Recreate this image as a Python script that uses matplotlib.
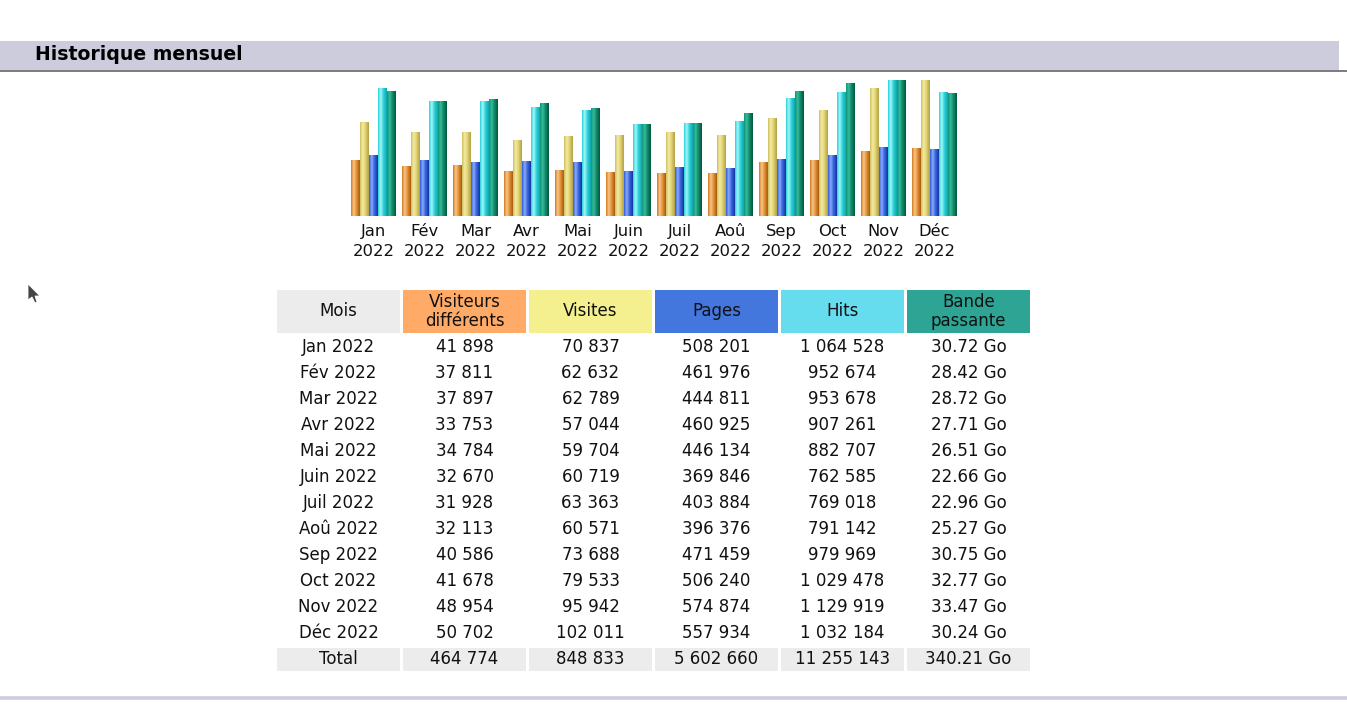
import matplotlib
matplotlib.use("Agg")
import matplotlib.pyplot as plt
import numpy as np
from matplotlib.colors import LinearSegmentedColormap
from matplotlib.patches import Rectangle, Polygon

# ---- data -------------------------------------------------------------
months = ["Jan", "Fév", "Mar", "Avr", "Mai", "Juin",
          "Juil", "Aoû", "Sep", "Oct", "Nov", "Déc"]
year = "2022"
visitors = [41898, 37811, 37897, 33753, 34784, 32670,
            31928, 32113, 40586, 41678, 48954, 50702]
visits = [70837, 62632, 62789, 57044, 59704, 60719,
          63363, 60571, 73688, 79533, 95942, 102011]
pages = [508201, 461976, 444811, 460925, 446134, 369846,
         403884, 396376, 471459, 506240, 574874, 557934]
hits = [1064528, 952674, 953678, 907261, 882707, 762585,
        769018, 791142, 979969, 1029478, 1129919, 1032184]
bandwidth = [30.72, 28.42, 28.72, 27.71, 26.51, 22.66,
             22.96, 25.27, 30.75, 32.77, 33.47, 30.24]
totals = [464774, 848833, 5602660, 11255143, 340.21]
headers = ["Mois", "Visiteurs\ndifférents", "Visites", "Pages", "Hits", "Bande\npassante"]
header_colors = ["#ECECEC", "#FFAA66", "#F4F090", "#4477DD", "#66DDEE", "#2EA495"]

W, H = 1347, 726
FONT = "DejaVu Sans"
TXT = "#111111"


def fmt_int(v):
    return "{:,}".format(v).replace(",", " ")


def fmt_go(v):
    return "{:.2f} Go".format(v)


fig = plt.figure(figsize=(W / 100, H / 100), dpi=100)
fig.patch.set_facecolor("white")

# page canvas in pixel coordinates
page = fig.add_axes([0, 0, 1, 1])
page.set_xlim(0, W)
page.set_ylim(H, 0)
page.axis("off")

# section header
page.add_patch(Rectangle((0, 41), 1339, 29, facecolor="#CCCCDD", edgecolor="none"))
page.plot([0, W], [71, 71], color="#7A7A80", lw=1.4, solid_capstyle="butt")
page.text(35, 55, "Historique mensuel", fontsize=13.6, fontweight="bold",
          family=FONT, va="center", ha="left", color="#000000")
page.plot([0, W], [698, 698], color="#CCCCDD", lw=2.6, solid_capstyle="butt")

# mouse cursor left in the screenshot
page.add_patch(Polygon([(28, 284), (28, 300), (32, 297), (35, 303), (37, 302),
                        (35, 296), (40, 296)], closed=True,
                       facecolor="#444444", edgecolor="#FFFFFF", lw=0.6))

# ---- bar chart --------------------------------------------------------
x0, x1, ytop, ybase = 351, 957, 80, 216
chart = fig.add_axes([x0 / W, 1 - ybase / H, (x1 - x0) / W, (ybase - ytop) / H])
chart.set_facecolor("none")
for s in chart.spines.values():
    s.set_visible(False)

# awstats scaling: visitors+visits by max visits, pages+hits by max hits,
# bandwidth by its own max
series = [
    (visitors, max(visits), ["#D07A1C", "#F8C68C", "#E69438", "#A65A0C"]),
    (visits, max(visits), ["#CDBE62", "#F4ECA4", "#E2D372", "#B0A048"]),
    (pages, max(hits), ["#2C5CD6", "#8CAAF8", "#3A6AE0", "#1432A2"]),
    (hits, max(hits), ["#28D2DA", "#A4F8F8", "#30D2DA", "#0EA4AE"]),
    (bandwidth, max(bandwidth), ["#0E9676", "#36BC9C", "#138A6C", "#00583A"]),
]
n_series = len(series)
group_w = 45 / 51
bar_w = group_w / n_series
x = np.arange(len(months))
grad = np.linspace(0, 1, 64).reshape(1, -1)

for j, (vals, vmax, stops) in enumerate(series):
    cmap = LinearSegmentedColormap.from_list("s%d" % j, list(zip([0, 0.3, 0.6, 1], stops)))
    heights = np.array(vals, dtype=float) / vmax
    bars = chart.bar(x - group_w / 2 + j * bar_w, heights, width=bar_w,
                     align="edge", color=stops[2], linewidth=0)
    for b in bars:
        im = chart.imshow(grad, extent=[b.get_x(), b.get_x() + b.get_width(), 0, b.get_height()],
                          aspect="auto", cmap=cmap, interpolation="bilinear", zorder=2)
        im.set_clip_path(b)

chart.set_xlim(-group_w / 2, len(months) - 1 + group_w / 2)
chart.set_ylim(0, 1)
chart.set_yticks([])
chart.set_xticks(x)
chart.set_xticklabels(["%s\n%s" % (m, year) for m in months], fontsize=11.8,
                      family=FONT, linespacing=1.38, color=TXT)
chart.tick_params(axis="x", length=0, pad=6)

# ---- table ------------------------------------------------------------
col_x = [277 + i * 126 for i in range(len(headers))]
cell_w = 123
for cx, label, col in zip(col_x, headers, header_colors):
    page.add_patch(Rectangle((cx, 290), cell_w, 43, facecolor=col, edgecolor="none"))
    page.text(cx + cell_w / 2, 311.5, label, ha="center", va="center", fontsize=12,
              family=FONT, linespacing=1.1, color=TXT)

columns = [
    [fmt_int(v) for v in visitors],
    [fmt_int(v) for v in visits],
    [fmt_int(v) for v in pages],
    [fmt_int(v) for v in hits],
    [fmt_go(v) for v in bandwidth],
]
for i, m in enumerate(months):
    y = 347 + i * 26
    page.text(col_x[0] + cell_w / 2, y, "%s %s" % (m, year), ha="center", va="center",
              fontsize=12, family=FONT, color=TXT)
    for k, col in enumerate(columns):
        page.text(col_x[k + 1] + cell_w / 2, y, col[i], ha="center", va="center",
                  fontsize=12, family=FONT, color=TXT)

total_txt = ["Total"] + [fmt_int(v) for v in totals[:4]] + [fmt_go(totals[4])]
for cx, t in zip(col_x, total_txt):
    page.add_patch(Rectangle((cx, 648), cell_w, 23, facecolor="#ECECEC", edgecolor="none"))
    page.text(cx + cell_w / 2, 659.5, t, ha="center", va="center", fontsize=12,
              family=FONT, color=TXT)

fig.savefig("out.png", dpi=100)
